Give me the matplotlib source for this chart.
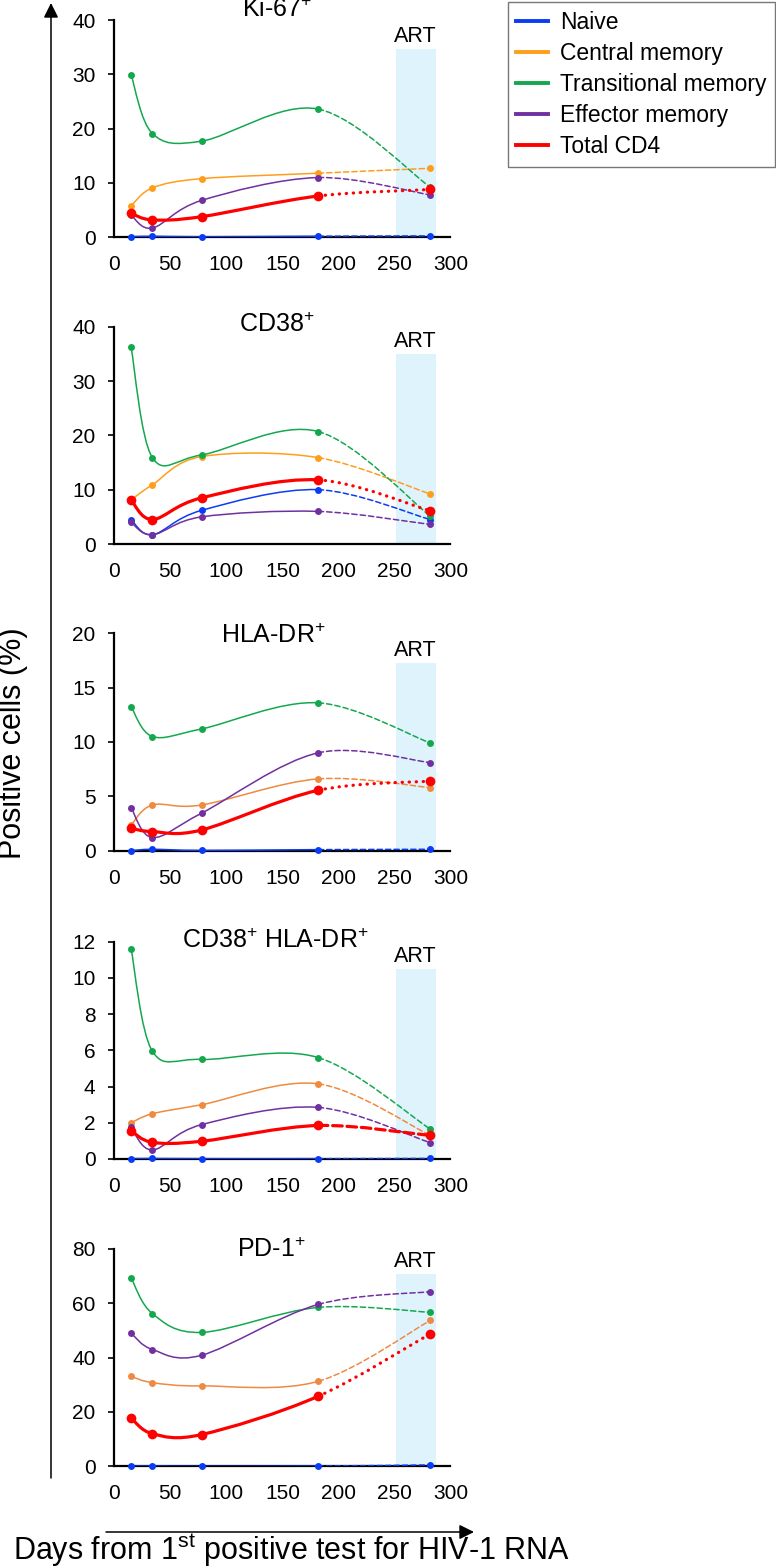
import numpy as np
import matplotlib
matplotlib.use("Agg")
import matplotlib.pyplot as plt
from matplotlib.path import Path
from matplotlib.patches import PathPatch, FancyArrowPatch
from matplotlib.lines import Line2D

plt.rcParams['font.family'] = ['Liberation Sans', 'DejaVu Sans']
plt.rcParams['mathtext.fontset'] = 'custom'
plt.rcParams['mathtext.rm'] = 'Liberation Sans'
plt.rcParams['mathtext.it'] = 'Liberation Sans:italic'
plt.rcParams['mathtext.bf'] = 'Liberation Sans:bold'

"""
DATOS
"""
# dias desde el primer test positivo
dias = [15, 34, 78, 182, 282]
# series: naive, central memory, transitional memory, effector memory, total CD4
nombres = ['Naive', 'Central memory', 'Transitional memory', 'Effector memory', 'Total CD4']

ki67 = [[0.1, 0.2, 0.1, 0.2, 0.25],
        [5.8, 9.1, 10.8, 11.8, 12.7],
        [29.9, 19.1, 17.7, 23.6, 9.2],
        [4.1, 1.7, 6.8, 11.0, 7.8],
        [4.4, 3.2, 3.8, 7.6, 8.8]]

cd38 = [[4.5, 1.7, 6.2, 10.0, 4.5],
        [8.1, 10.9, 16.1, 15.9, 9.2],
        [36.2, 15.9, 16.4, 20.7, 5.1],
        [4.0, 1.7, 5.0, 6.0, 3.6],
        [8.1, 4.5, 8.5, 11.8, 6.1]]

hladr = [[0.0, 0.12, 0.02, 0.09, 0.12],
         [2.35, 4.2, 4.2, 6.6, 5.8],
         [13.25, 10.5, 11.2, 13.6, 9.9],
         [3.95, 1.2, 3.45, 9.0, 8.1],
         [2.05, 1.75, 1.9, 5.55, 6.4]]

cd38_hladr = [[0.02, 0.03, 0.02, 0.02, 0.03],
              [2.0, 2.5, 3.0, 4.15, 1.3],
              [11.6, 5.95, 5.5, 5.6, 1.65],
              [1.75, 0.5, 1.9, 2.85, 0.9],
              [1.55, 0.92, 0.98, 1.85, 1.3]]

pd1 = [[0.1, 0.1, 0.0, 0.1, 0.5],
       [33.1, 30.8, 29.6, 31.3, 53.7],
       [69.4, 56.2, 49.3, 58.5, 56.7],
       [49.0, 43.0, 40.9, 59.6, 64.3],
       [17.8, 12.0, 11.7, 25.8, 48.8]]

titulos = ['Ki-67$^{+}$', 'CD38$^{+}$', 'HLA-DR$^{+}$', 'CD38$^{+}$ HLA-DR$^{+}$', 'PD-1$^{+}$']
paneles = [ki67, cd38, hladr, cd38_hladr, pd1]
ylims = [40, 40, 20, 12, 80]
ypasos = [10, 10, 5, 2, 20]
# ventana ART (dias) y altura de la banda en cada panel
art_ini, art_fin = 251, 287
art_alto = [34.6, 34.9, 17.3, 10.5, 70.8]

"""
ESTILO
"""
colores = ['#0A3CF5', '#FF9E1B', '#14A84E', '#7030A0', '#FF0000']
naranja_panel = ['#FF9E1B', '#FF9E1B', '#F08A3C', '#F08A3C', '#EE8A45']
titulo_y = [1.012, 0.974, 0.957, 0.970, 0.965]
titulo_x = [0.483, 0.483, 0.473, 0.480, 0.467]

FIG_W, FIG_H = 776, 1566
ax_izq, ax_der = 114.3, 450.5
tops = [20, 326.7, 633.3, 941.7, 1249]
alto = 217.3


def curva_suave(x, y):
    # bezier tipo "linea suavizada" de excel
    n = len(x)
    verts = [(x[0], y[0])]
    codes = [Path.MOVETO]
    for i in range(n - 1):
        i0 = max(i - 1, 0)
        i3 = min(i + 2, n - 1)
        c1 = (x[i] + (x[i + 1] - x[i0]) / 6.0, y[i] + (y[i + 1] - y[i0]) / 6.0)
        c2 = (x[i + 1] - (x[i3] - x[i]) / 6.0, y[i + 1] - (y[i3] - y[i]) / 6.0)
        verts += [c1, c2, (x[i + 1], y[i + 1])]
        codes += [Path.CURVE4] * 3
    return verts, codes


fig = plt.figure(figsize=(FIG_W / 100, FIG_H / 100), dpi=100)

for k in range(len(paneles)):
    datos = paneles[k]
    ax = fig.add_axes([ax_izq / FIG_W, 1 - (tops[k] + alto) / FIG_H,
                       (ax_der - ax_izq) / FIG_W, alto / FIG_H])
    # banda ART
    ax.bar([(art_ini + art_fin) / 2], [art_alto[k]], width=art_fin - art_ini,
           color='#DFF3FC', zorder=0.5)
    ax.annotate('ART', xy=((art_ini + art_fin) / 2, art_alto[k]), xytext=(0, 5),
                textcoords='offset points', ha='center', va='baseline', fontsize=15.5)

    for j in range(len(datos)):
        col = colores[j]
        if j == 1:
            col = naranja_panel[k]
        verts, codes = curva_suave(dias, datos[j])
        solido = Path(verts[:10], codes[:10])
        cola = Path(verts[9:], [Path.MOVETO] + codes[10:])
        if j == 4:
            lw, ms, z = 2.3, 7.0, 4
            if k == 3:
                estilo_cola = (0, (3, 1.5))
            else:
                estilo_cola = (0, (0.1, 2.1))
        else:
            lw, ms, z = 1.1, 5.0, 3 + j * 0.1
            estilo_cola = (0, (3.5, 2))
        ax.add_patch(PathPatch(solido, fill=False, edgecolor=col, lw=lw, zorder=z,
                               joinstyle='round', capstyle='round'))
        ax.add_patch(PathPatch(cola, fill=False, edgecolor=col, lw=lw, zorder=z,
                               linestyle=estilo_cola, capstyle='round'))
        ax.plot(dias, datos[j], 'o', ms=ms, color=col, mec='none', zorder=z + 0.05,
                clip_on=False)

    ax.set_xlim(0, 300)
    ax.set_ylim(0, ylims[k])
    ax.set_xticks(np.arange(0, 301, 50))
    ax.set_yticks(np.arange(0, ylims[k] + 0.1, ypasos[k]))
    ax.spines['top'].set_visible(False)
    ax.spines['right'].set_visible(False)
    ax.spines['left'].set_linewidth(1.6)
    ax.spines['bottom'].set_linewidth(1.6)
    ax.patch.set_alpha(0)
    ax.tick_params(axis='x', length=0, pad=13, labelsize=15)
    ax.tick_params(axis='y', length=4.5, width=1.2, pad=9, labelsize=15, direction='out')
    ax.text(titulo_x[k], titulo_y[k], titulos[k], transform=ax.transAxes,
            ha='center', va='baseline', fontsize=18)

# flechas de los ejes
flecha_y = FancyArrowPatch((51 / FIG_W, 1 - 1478 / FIG_H), (51 / FIG_W, 1 - 3 / FIG_H),
                           transform=fig.transFigure, arrowstyle='-|>', mutation_scale=22,
                           lw=1.1, color='k', shrinkA=0, shrinkB=0)
flecha_x = FancyArrowPatch((106 / FIG_W, 1 - 1532 / FIG_H), (474 / FIG_W, 1 - 1532 / FIG_H),
                           transform=fig.transFigure, arrowstyle='-|>', mutation_scale=22,
                           lw=1.1, color='k', shrinkA=0, shrinkB=0)
fig.add_artist(flecha_y)
fig.add_artist(flecha_x)

fig.text(13 / FIG_W, 1 - 743 / FIG_H, 'Positive cells (%)', rotation=90,
         ha='center', va='center', fontsize=22)
fig.text(13 / FIG_W, 1 - 1560 / FIG_H, 'Days from 1$^{\\mathrm{st}}$ positive test for HIV-1 RNA',
         ha='left', va='baseline', fontsize=22)

# leyenda
handles = [Line2D([], [], color=colores[j], lw=2.8) for j in range(len(nombres))]
leg = fig.legend(handles, nombres, loc='upper right',
                 bbox_to_anchor=(775 / FIG_W, 1 - 2 / FIG_H), fontsize=16.5,
                 frameon=True, fancybox=False, edgecolor='#555555',
                 handlelength=1.4, handletextpad=0.5, labelspacing=0.35,
                 borderpad=0.38, borderaxespad=0)
leg.get_frame().set_linewidth(1.0)

plt.savefig('out.png', dpi=100)
